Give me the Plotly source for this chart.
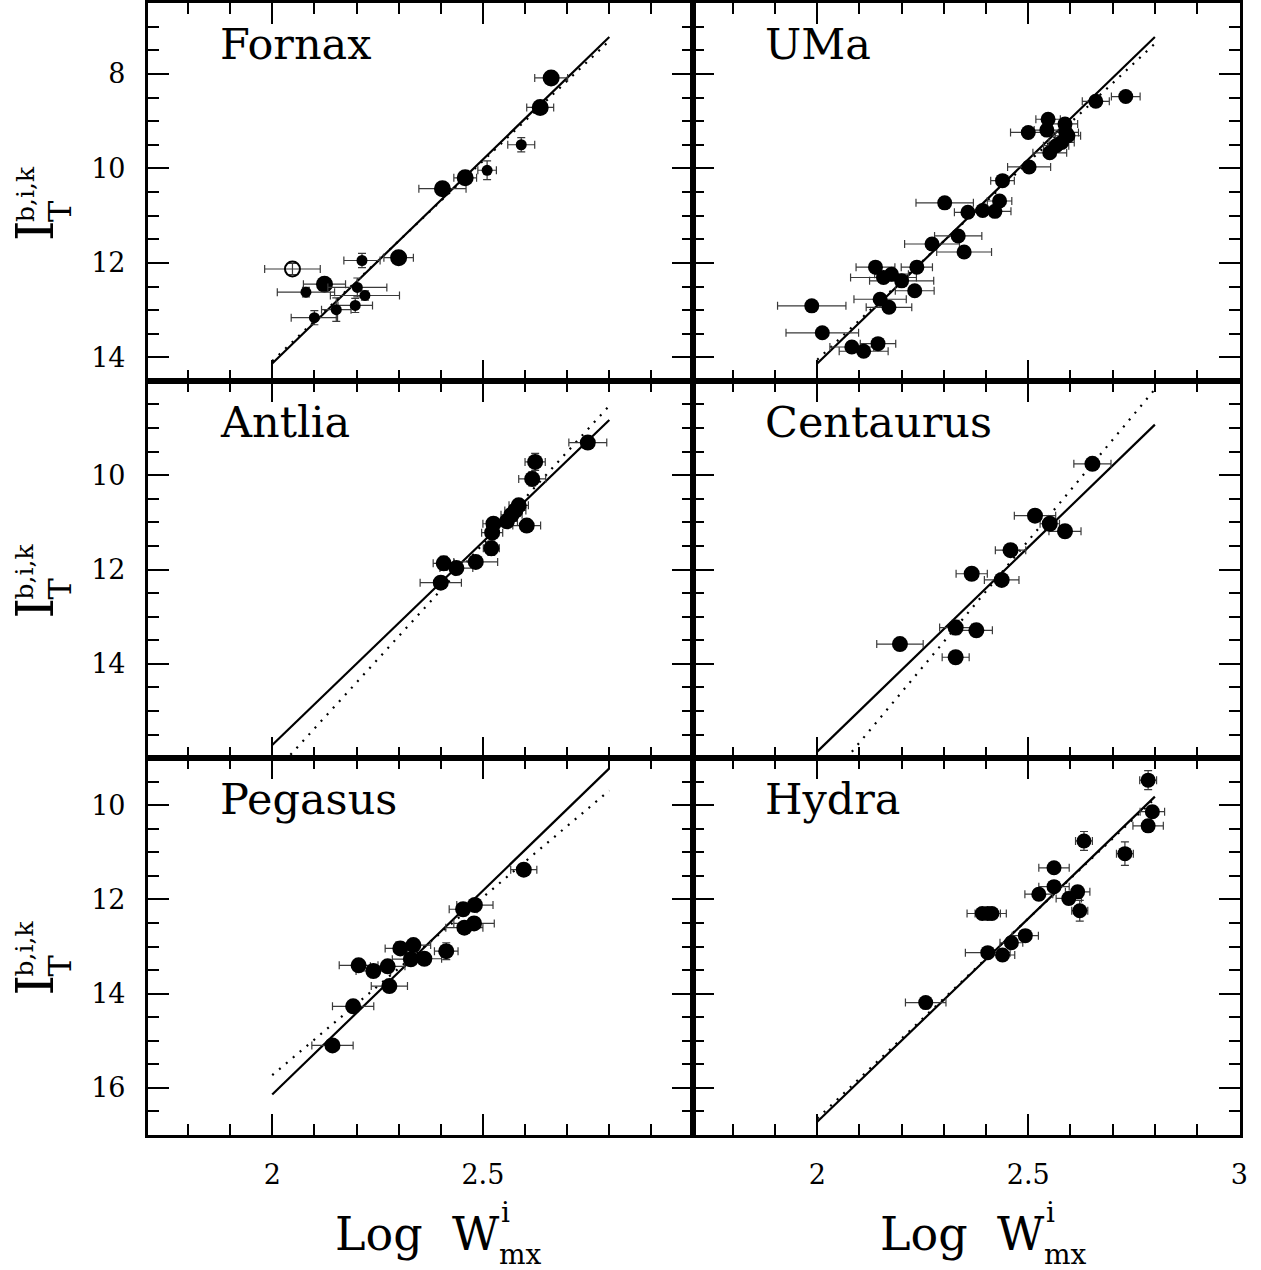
import plotly.graph_objects as go

# ---------------- data ----------------
panel_names = ["Fornax", "UMa", "Antlia", "Centaurus", "Pegasus", "Hydra"]

# Fornax (three groups: large filled, small filled, open)
fornax_big_x = [2.662, 2.636, 2.458, 2.404, 2.300, 2.124]
fornax_big_y = [8.085, 8.71, 10.20, 10.43, 11.89, 12.45]
fornax_big_xerr = [0.039, 0.032, 0.027, 0.056, 0.035, 0.050]
fornax_big_yerr = [0.08, 0.10, 0.12, 0.10, 0.12, 0.10]

fornax_small_x = [2.591, 2.510, 2.213, 2.080, 2.202, 2.220, 2.197, 2.152, 2.100]
fornax_small_y = [9.50, 10.04, 11.95, 12.62, 12.52, 12.69, 12.90, 12.99, 13.16]
fornax_small_xerr = [0.032, 0.022, 0.043, 0.068, 0.070, 0.082, 0.041, 0.035, 0.055]
fornax_small_yerr = [0.15, 0.20, 0.15, 0.10, 0.20, 0.10, 0.15, 0.25, 0.15]

fornax_open_x = [2.048]
fornax_open_y = [12.13]
fornax_open_xerr = [0.066]
fornax_open_yerr = [0.12]

uma_x = [2.731, 2.660, 2.547, 2.544, 2.500, 2.587, 2.589, 2.594, 2.579, 2.566,
         2.551, 2.502, 2.439, 2.432, 2.421, 2.392, 2.357, 2.302, 2.334, 2.272,
         2.348, 2.236, 2.138, 2.157, 2.176, 2.200, 2.231, 2.149, 2.170, 1.987,
         2.012, 2.082, 2.110, 2.144]
uma_y = [8.48, 8.58, 8.96, 9.19, 9.24, 9.06, 9.24, 9.31, 9.45, 9.52,
         9.67, 9.97, 10.26, 10.69, 10.91, 10.89, 10.93, 10.73, 11.43, 11.60,
         11.77, 12.09, 12.09, 12.31, 12.24, 12.38, 12.59, 12.77, 12.94, 12.91,
         13.48, 13.78, 13.87, 13.71]
uma_xerr = [0.034, 0.032, 0.029, 0.030, 0.042, 0.030, 0.030, 0.030, 0.030, 0.030,
            0.040, 0.051, 0.028, 0.029, 0.038, 0.030, 0.032, 0.068, 0.056, 0.065,
            0.065, 0.037, 0.046, 0.078, 0.040, 0.076, 0.046, 0.062, 0.054, 0.081,
            0.086, 0.052, 0.058, 0.042]
uma_yerr = [0.10] * 34

antlia_x = [2.749, 2.624, 2.617, 2.585, 2.577, 2.568, 2.557, 2.604, 2.525, 2.522,
            2.520, 2.483, 2.407, 2.437, 2.400]
antlia_y = [9.31, 9.72, 10.08, 10.64, 10.75, 10.84, 10.98, 11.07, 11.03, 11.22,
            11.55, 11.84, 11.87, 11.97, 12.28]
antlia_xerr = [0.045, 0.024, 0.032, 0.023, 0.025, 0.025, 0.025, 0.033, 0.025, 0.025,
               0.019, 0.052, 0.025, 0.039, 0.049]
antlia_yerr = [0.10, 0.18, 0.15, 0.12, 0.10, 0.10, 0.10, 0.10, 0.12, 0.12,
               0.15, 0.10, 0.15, 0.10, 0.10]

cen_x = [2.652, 2.516, 2.551, 2.587, 2.458, 2.366, 2.437, 2.328, 2.377, 2.196, 2.328]
cen_y = [9.76, 10.86, 11.03, 11.19, 11.59, 12.09, 12.22, 13.23, 13.29, 13.58, 13.86]
cen_xerr = [0.044, 0.049, 0.023, 0.038, 0.036, 0.037, 0.041, 0.038, 0.038, 0.055, 0.032]
cen_yerr = [0.10, 0.10, 0.12, 0.10, 0.10, 0.10, 0.10, 0.15, 0.10, 0.10, 0.10]

peg_x = [2.597, 2.481, 2.453, 2.479, 2.456, 2.413, 2.335, 2.304, 2.361, 2.329,
         2.274, 2.205, 2.240, 2.278, 2.192, 2.143]
peg_y = [11.37, 12.12, 12.21, 12.51, 12.60, 13.10, 12.97, 13.04, 13.26, 13.27,
         13.42, 13.40, 13.52, 13.84, 14.27, 15.10]
peg_xerr = [0.031, 0.043, 0.033, 0.048, 0.044, 0.028, 0.041, 0.036, 0.041, 0.044,
            0.041, 0.046, 0.041, 0.043, 0.049, 0.049]
peg_yerr = [0.10, 0.12, 0.10, 0.12, 0.10, 0.18, 0.10, 0.10, 0.10, 0.10,
            0.10, 0.10, 0.10, 0.10, 0.10, 0.10]

hya_x = [2.784, 2.794, 2.784, 2.632, 2.729, 2.561, 2.561, 2.525, 2.617, 2.596,
         2.622, 2.391, 2.404, 2.414, 2.493, 2.460, 2.404, 2.439, 2.257]
hya_y = [9.47, 10.14, 10.44, 10.76, 11.03, 11.33, 11.73, 11.89, 11.84, 11.98,
         12.24, 12.30, 12.30, 12.30, 12.77, 12.92, 13.13, 13.18, 14.19]
hya_xerr = [0.020, 0.029, 0.036, 0.020, 0.020, 0.036, 0.036, 0.033, 0.029, 0.030,
            0.019, 0.036, 0.030, 0.034, 0.031, 0.027, 0.053, 0.029, 0.048]
hya_yerr = [0.20, 0.12, 0.12, 0.20, 0.25, 0.10, 0.12, 0.12, 0.12, 0.12,
            0.22, 0.10, 0.10, 0.10, 0.12, 0.12, 0.10, 0.12, 0.10]

# fit lines (end points at log W = 2.0 and 2.8)
line_x = [2.0, 2.8]
solid_y = {
    "Fornax": [14.13, 7.22], "UMa": [14.13, 7.22], "Antlia": [15.72, 8.83],
    "Centaurus": [15.86, 8.93], "Pegasus": [16.14, 9.22], "Hydra": [16.72, 9.82],
}
dotted_y = {
    "Fornax": [14.08, 7.30], "UMa": [14.05, 7.36], "Antlia": [16.35, 8.53],
    "Centaurus": [16.74, 8.18], "Pegasus": [15.73, 9.69], "Hydra": [16.65, 9.86],
}

x_range_left = [1.705, 2.998]
x_range_right = [1.705, 3.0005]
y_ranges = [[14.5, 6.5], [15.995, 8.005], [17.0, 9.0]]

# ---------------- figure ----------------
W, H = 1261, 1270
WE = 1253.5   # width the page actually renders the figure at
FONT = "DejaVu Serif"
col_px = [(148, 693), (693, 1240)]
row_px = [(3, 381), (381, 758), (758, 1135)]


def px(xpix):
    return xpix / WE


def py(ypix):
    return 1 - ypix / H


fig = go.Figure()


def axname(i):
    return "" if i == 1 else str(i)


def add_points(i, xs, ys, xe, ye, size, symbol="circle"):
    fig.add_trace(go.Scatter(
        x=xs, y=ys, mode="markers",
        xaxis="x" + axname(i), yaxis="y" + axname(i),
        marker=dict(color="black", size=size, symbol=symbol,
                    line=dict(color="black", width=2 if "open" in symbol else 0)),
        error_x=dict(type="data", array=xe, visible=True, color="#3a3a3a",
                     thickness=1.2, width=4),
        error_y=dict(type="data", array=ye, visible=True, color="#3a3a3a",
                     thickness=1.2, width=4),
        showlegend=False, cliponaxis=True,
    ))


def add_lines(i, name):
    fig.add_trace(go.Scatter(
        x=line_x, y=solid_y[name], mode="lines",
        xaxis="x" + axname(i), yaxis="y" + axname(i),
        line=dict(color="black", width=2.2), showlegend=False))
    fig.add_trace(go.Scatter(
        x=line_x, y=dotted_y[name], mode="lines",
        xaxis="x" + axname(i), yaxis="y" + axname(i),
        line=dict(color="black", width=2.2, dash="2px,7px"), showlegend=False))


add_lines(1, "Fornax")
add_points(1, fornax_big_x, fornax_big_y, fornax_big_xerr, fornax_big_yerr, 17)
add_points(1, fornax_small_x, fornax_small_y, fornax_small_xerr, fornax_small_yerr, 11)
add_points(1, fornax_open_x, fornax_open_y, fornax_open_xerr, fornax_open_yerr, 15, "circle-open")
add_lines(2, "UMa")
add_points(2, uma_x, uma_y, uma_xerr, uma_yerr, 15)
add_lines(3, "Antlia")
add_points(3, antlia_x, antlia_y, antlia_xerr, antlia_yerr, 16)
add_lines(4, "Centaurus")
add_points(4, cen_x, cen_y, cen_xerr, cen_yerr, 16)
add_lines(5, "Pegasus")
add_points(5, peg_x, peg_y, peg_xerr, peg_yerr, 16)
add_lines(6, "Hydra")
add_points(6, hya_x, hya_y, hya_xerr, hya_yerr, 15)

layout = dict(
    width=W, height=H, autosize=False, margin=dict(l=0, r=0, t=0, b=0, pad=0),
    paper_bgcolor="white", plot_bgcolor="white", showlegend=False,
    font=dict(family=FONT, color="black"),
)

annotations = []
for r in range(3):
    for c in range(2):
        i = r * 2 + c + 1
        x0, x1 = col_px[c]
        y0, y1 = row_px[r]
        xa = dict(
            domain=[px(x0), min(px(x1), 1.0)],
            range=x_range_left if c == 0 else x_range_right,
            anchor="y" + axname(i),
            showline=True, linecolor="black", linewidth=3, mirror="ticks",
            ticks="inside", ticklen=21, tickwidth=2, tickcolor="black",
            tickmode="linear", tick0=0, dtick=0.5,
            minor=dict(ticks="inside", ticklen=11, tickwidth=2, tickcolor="black",
                       tickmode="linear", tick0=0, dtick=0.1),
            showgrid=False, zeroline=False,
            showticklabels=(r == 2), tickfont=dict(size=27, family=FONT),
            ticklabelstandoff=14,
        )
        ya = dict(
            domain=[py(y1), py(y0)],
            range=y_ranges[r],
            anchor="x" + axname(i),
            showline=True, linecolor="black", linewidth=3, mirror="ticks",
            ticks="inside", ticklen=21, tickwidth=2, tickcolor="black",
            tickmode="linear", tick0=0, dtick=2,
            minor=dict(ticks="inside", ticklen=11, tickwidth=2, tickcolor="black",
                       tickmode="linear", tick0=0, dtick=0.5),
            showgrid=False, zeroline=False,
            showticklabels=(c == 0), tickfont=dict(size=27, family=FONT),
            ticklabelstandoff=14,
        )
        layout["xaxis" + axname(i)] = xa
        layout["yaxis" + axname(i)] = ya
        annotations.append(dict(
            text=panel_names[i - 1], xref="paper", yref="paper",
            x=px(x0 + 70), y=py(y0 + 41),
            xanchor="left", yanchor="middle", showarrow=False,
            font=dict(size=43, family=FONT, color="black")))

# y-axis titles  I_T^{b,i,k}
for r in range(3):
    yc = (row_px[r][0] + row_px[r][1]) / 2
    off = yc - 192
    annotations.append(dict(text="I", xref="paper", yref="paper",
                            x=px(35), y=py(230 + off), textangle=-90,
                            xanchor="center", yanchor="middle", showarrow=False,
                            font=dict(size=52, family=FONT, color="black")))
    annotations.append(dict(text="b,i,k", xref="paper", yref="paper",
                            x=px(25), y=py(194 + off), textangle=-90,
                            xanchor="center", yanchor="middle", showarrow=False,
                            font=dict(size=25, family=FONT, color="black")))
    annotations.append(dict(text="T", xref="paper", yref="paper",
                            x=px(60), y=py(211 + off), textangle=-90,
                            xanchor="center", yanchor="middle", showarrow=False,
                            font=dict(size=32, family=FONT, color="black")))

# x-axis titles  Log W^i_mx
for c in range(2):
    left = 333 if c == 0 else 878
    annotations.append(dict(text="Log  W", xref="paper", yref="paper",
                            x=px(left), y=py(1234),
                            xanchor="left", yanchor="middle", showarrow=False,
                            font=dict(size=46, family=FONT, color="black")))
    annotations.append(dict(text="i", xref="paper", yref="paper",
                            x=px(left + 166), y=py(1212),
                            xanchor="left", yanchor="middle", showarrow=False,
                            font=dict(size=28, family=FONT, color="black")))
    annotations.append(dict(text="mx", xref="paper", yref="paper",
                            x=px(left + 164), y=py(1254),
                            xanchor="left", yanchor="middle", showarrow=False,
                            font=dict(size=28, family=FONT, color="black")))

layout["annotations"] = annotations
fig.update_layout(**layout)
fig.write_html("out.html")
